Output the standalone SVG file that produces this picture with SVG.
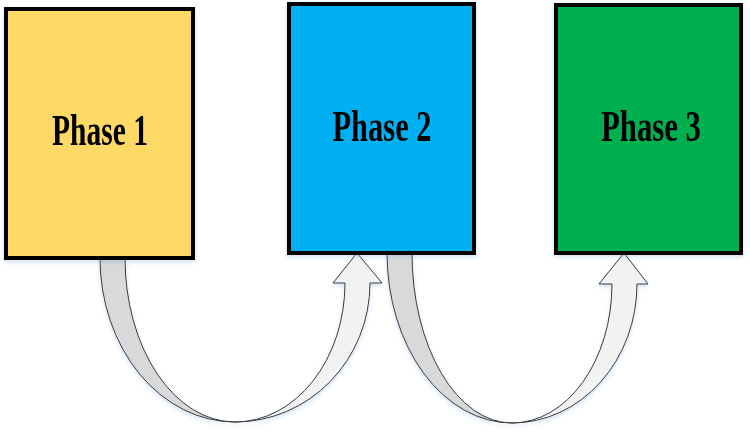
<svg xmlns="http://www.w3.org/2000/svg" width="750" height="440" viewBox="0 0 750 440">
<defs>
<style>
.box{stroke:#000;stroke-width:4}
.lbl{font-family:"Liberation Serif","Times New Roman",serif;font-weight:bold;font-size:44px;fill:#000;text-anchor:middle}
.back{fill:#D9D9D9;stroke:#3a3a3a;stroke-width:1}
.front{fill:#F2F2F2;stroke:#3a3a3a;stroke-width:1;stroke-linejoin:miter}
</style>
<filter id="sh" x="-10%" y="-10%" width="120%" height="125%">
<feDropShadow dx="0" dy="2" stdDeviation="2" flood-color="#5b9bd5" flood-opacity="0.3"/>
</filter>
</defs>
<rect width="750" height="440" fill="#fff"/>
<g id="connectors" filter="url(#sh)">
<g id="arrow1">
<path class="back" d="M100,258 A135,164 0 0 0 235,422 A110,164 0 0 1 125,258 Z"/>
<path class="front" d="M235,422 A135,139 0 0 0 370,283 L382,283 L357,253 L333,283 L345,283 A110,139 0 0 1 235,422 Z"/>
</g>
<g id="arrow2">
<path class="back" d="M387,253 A125,170 0 0 0 512,423 A100,170 0 0 1 412,253 Z"/>
<path class="front" d="M512,423 A125,139 0 0 0 637,284 L648,284 L624,253 L599,284 L612,284 A100,139 0 0 1 512,423 Z"/>
</g>
</g>
<g id="phase1" filter="url(#sh)">
<rect class="box" x="6" y="9" width="187" height="249" fill="#FFD966"/>
<text class="lbl" x="100" y="145" textLength="96" lengthAdjust="spacingAndGlyphs">Phase 1</text>
</g>
<g id="phase2" filter="url(#sh)">
<rect class="box" x="289" y="4" width="185" height="249" fill="#00B0F0"/>
<text class="lbl" x="382" y="141" textLength="99" lengthAdjust="spacingAndGlyphs">Phase 2</text>
</g>
<g id="phase3" filter="url(#sh)">
<rect class="box" x="556" y="5" width="185" height="248" fill="#00B050"/>
<text class="lbl" x="651" y="141" textLength="100" lengthAdjust="spacingAndGlyphs">Phase 3</text>
</g>
</svg>
